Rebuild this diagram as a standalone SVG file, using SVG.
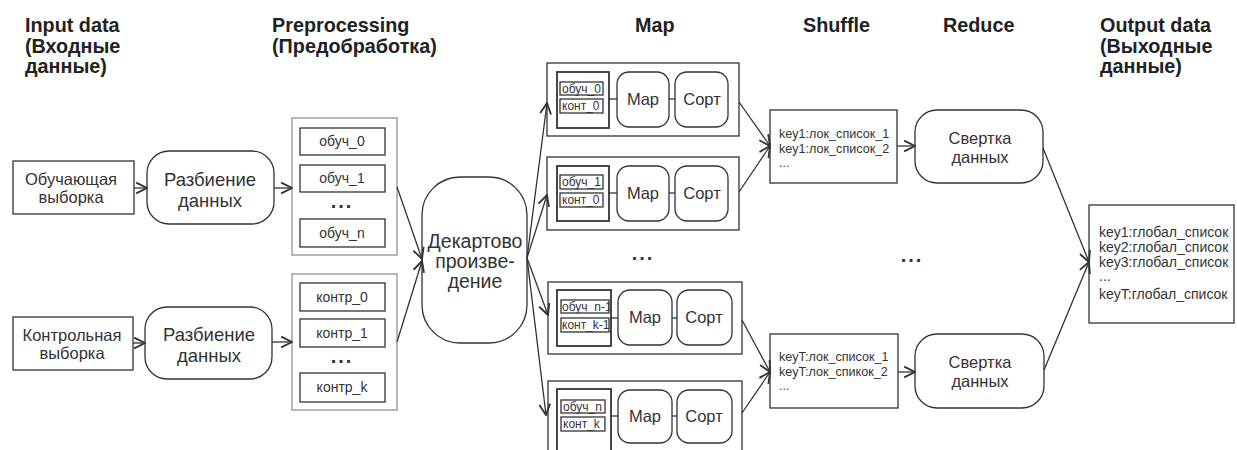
<svg xmlns="http://www.w3.org/2000/svg" width="1237" height="450" viewBox="0 0 1237 450">
  <style>
    .hdr { font-family: "Liberation Sans", Arial, sans-serif; font-weight: bold; font-size: 19.8px; fill: #222; }
    .t { font-family: "Liberation Sans", Arial, sans-serif; fill: #333; text-anchor: middle; }
    .tl { font-family: "Liberation Sans", Arial, sans-serif; fill: #333; }
    .sm { font-family: "Liberation Sans", Arial, sans-serif; fill: #333; font-size: 12px; }
    .box { fill: #fff; stroke: #333; stroke-width: 1.3; }
    .gray { fill: #fff; stroke: #a0a0a0; stroke-width: 1.5; }
    .thick { fill: #fff; stroke: #333; stroke-width: 1.8; }
    .edge { fill: none; stroke: #333; stroke-width: 1.3; marker-end: url(#arr); }
    .link { fill: none; stroke: #333; stroke-width: 1.3; }
    .dots { font-family: "Liberation Sans", Arial, sans-serif; font-weight: bold; font-size: 20px; fill: #333; text-anchor: middle; letter-spacing: 2px; }
  </style>
  <defs>
    <marker id="arr" viewBox="0 0 12 12" refX="11" refY="6" markerWidth="13" markerHeight="13" markerUnits="userSpaceOnUse" orient="auto">
      <path d="M1,1 L11,6 L1,11" fill="none" stroke="#333" stroke-width="1.7"/>
    </marker>
    <clipPath id="clipA"><rect x="561" y="300" width="48" height="13"/></clipPath>
    <clipPath id="clipB"><rect x="561" y="318" width="48" height="14"/></clipPath>
  </defs>
  <rect width="1237" height="450" fill="#fff"/>

  <!-- column headers -->
  <g id="headers">
    <text class="hdr" x="25" y="32">Input data</text>
    <text class="hdr" x="25" y="53">(Входные</text>
    <text class="hdr" x="25" y="73">данные)</text>
    <text class="hdr" x="272" y="32">Preprocessing</text>
    <text class="hdr" x="272" y="53">(Предобработка)</text>
    <text class="hdr" x="635" y="32">Map</text>
    <text class="hdr" x="803" y="32">Shuffle</text>
    <text class="hdr" x="943" y="32">Reduce</text>
    <text class="hdr" x="1100" y="32">Output data</text>
    <text class="hdr" x="1100" y="53">(Выходные</text>
    <text class="hdr" x="1100" y="73">данные)</text>
  </g>

  <!-- input data -->
  <g id="train-sample">
    <rect class="box" x="13" y="161" width="121" height="53"/>
    <text class="t" x="71" y="185" font-size="16.5">Обучающая</text>
    <text class="t" x="71" y="203" font-size="16.5">выборка</text>
  </g>
  <g id="control-sample">
    <rect class="box" x="13" y="317" width="120" height="53"/>
    <text class="t" x="72" y="341" font-size="16.5">Контрольная</text>
    <text class="t" x="72" y="359" font-size="16.5">выборка</text>
  </g>

  <!-- splitting -->
  <g id="split-train">
    <rect class="box" x="147" y="151" width="127" height="73" rx="22"/>
    <text class="t" x="210" y="186" font-size="18.5">Разбиение</text>
    <text class="t" x="210" y="207" font-size="18.5">данных</text>
  </g>
  <g id="split-control">
    <rect class="box" x="145" y="307" width="127" height="72" rx="22"/>
    <text class="t" x="209" y="341" font-size="18.5">Разбиение</text>
    <text class="t" x="209" y="362" font-size="18.5">данных</text>
  </g>

  <!-- partitions -->
  <g id="train-parts">
    <rect class="gray" x="292" y="118" width="105" height="137"/>
    <rect class="box" x="300" y="128" width="85" height="27"/>
    <text class="t" x="342" y="146" font-size="14">обуч_0</text>
    <rect class="box" x="300" y="165" width="85" height="27"/>
    <text class="t" x="342" y="183" font-size="14">обуч_1</text>
    <text class="dots" x="342" y="208">...</text>
    <rect class="box" x="300" y="219" width="85" height="28"/>
    <text class="t" x="342" y="238" font-size="14">обуч_n</text>
  </g>
  <g id="control-parts">
    <rect class="gray" x="292" y="274" width="105" height="136"/>
    <rect class="box" x="300" y="283" width="85" height="28"/>
    <text class="t" x="342" y="302" font-size="14">контр_0</text>
    <rect class="box" x="300" y="319" width="85" height="28"/>
    <text class="t" x="342" y="338" font-size="14">контр_1</text>
    <text class="dots" x="342" y="363">...</text>
    <rect class="box" x="300" y="373" width="85" height="29"/>
    <text class="t" x="342" y="392" font-size="14">контр_k</text>
  </g>

  <!-- cartesian product -->
  <g id="cartesian">
    <rect class="box" x="422" y="177" width="105" height="166" rx="38"/>
    <text class="t" x="475" y="248" font-size="19.5">Декартово</text>
    <text class="t" x="475" y="268" font-size="19.5">произве-</text>
    <text class="t" x="475" y="288" font-size="19.5">дение</text>
  </g>

  <!-- map blocks -->
  <g id="map-1">
    <rect class="box" x="547" y="63" width="192" height="73"/>
    <rect class="thick" x="557" y="72" width="52" height="56"/>
    <rect class="box" x="560" y="82" width="43" height="13"/>
    <text class="sm" x="562" y="93">обуч_0</text>
    <rect class="box" x="560" y="99" width="43" height="14"/>
    <text class="sm" x="562" y="110">конт_0</text>
    <line class="link" x1="609" y1="99" x2="617" y2="99"/>
    <rect class="box" x="617" y="72" width="52" height="55" rx="12"/>
    <text class="t" x="643" y="105" font-size="16.5">Map</text>
    <line class="link" x1="669" y1="99" x2="675" y2="99"/>
    <rect class="box" x="675" y="72" width="53" height="55" rx="12"/>
    <text class="t" x="702" y="105" font-size="16.5">Сорт</text>
  </g>
  <g id="map-2">
    <rect class="box" x="547" y="157" width="192" height="73"/>
    <rect class="thick" x="557" y="166" width="52" height="55"/>
    <rect class="box" x="560" y="175" width="43" height="14"/>
    <text class="sm" x="562" y="186">обуч_1</text>
    <rect class="box" x="560" y="193" width="43" height="14"/>
    <text class="sm" x="562" y="204">конт_0</text>
    <line class="link" x1="609" y1="193" x2="617" y2="193"/>
    <rect class="box" x="617" y="166" width="52" height="55" rx="12"/>
    <text class="t" x="643" y="199" font-size="16.5">Map</text>
    <line class="link" x1="669" y1="193" x2="675" y2="193"/>
    <rect class="box" x="675" y="166" width="53" height="55" rx="12"/>
    <text class="t" x="702" y="199" font-size="16.5">Сорт</text>
  </g>
  <g id="map-3">
    <rect class="box" x="548" y="282" width="194" height="72"/>
    <rect class="thick" x="557" y="290" width="54" height="56"/>
    <rect class="box" x="561" y="300" width="48" height="13"/>
    <text class="sm" x="562" y="311" clip-path="url(#clipA)">обуч_n-1</text>
    <rect class="box" x="561" y="318" width="48" height="14"/>
    <text class="sm" x="562" y="329" clip-path="url(#clipB)">конт_k-1</text>
    <line class="link" x1="611" y1="318" x2="618" y2="318"/>
    <rect class="box" x="618" y="290" width="54" height="55" rx="12"/>
    <text class="t" x="645" y="323" font-size="16.5">Map</text>
    <line class="link" x1="672" y1="318" x2="677" y2="318"/>
    <rect class="box" x="677" y="290" width="55" height="55" rx="12"/>
    <text class="t" x="704" y="323" font-size="16.5">Сорт</text>
  </g>
  <g id="map-4">
    <rect class="box" x="548" y="381" width="194" height="80"/>
    <rect class="thick" x="557" y="389" width="54" height="70"/>
    <rect class="box" x="561" y="400" width="44" height="13"/>
    <text class="sm" x="563" y="411">обуч_n</text>
    <rect class="box" x="561" y="417" width="44" height="14"/>
    <text class="sm" x="563" y="428">конт_k</text>
    <line class="link" x1="611" y1="416" x2="618" y2="416"/>
    <rect class="box" x="618" y="390" width="54" height="53" rx="12"/>
    <text class="t" x="645" y="422" font-size="16.5">Map</text>
    <line class="link" x1="672" y1="416" x2="677" y2="416"/>
    <rect class="box" x="677" y="390" width="55" height="53" rx="12"/>
    <text class="t" x="704" y="422" font-size="16.5">Сорт</text>
  </g>

  <text id="map-dots" class="dots" x="643" y="260">...</text>

  <!-- shuffle -->
  <g id="shuffle-1">
    <rect class="box" x="770" y="110" width="127" height="73"/>
    <text class="tl" x="779" y="138" font-size="12.6">key1:лок_список_1</text>
    <text class="tl" x="779" y="153" font-size="12.6">key1:лок_список_2</text>
    <text class="tl" x="779" y="167" font-size="12.6">...</text>
  </g>
  <g id="shuffle-2">
    <rect class="box" x="770" y="334" width="128" height="74"/>
    <text class="tl" x="779" y="361" font-size="12.6">keyT:лок_список_1</text>
    <text class="tl" x="779" y="376" font-size="12.6">keyT:лок_спикок_2</text>
    <text class="tl" x="779" y="390" font-size="12.6">...</text>
  </g>

  <!-- reduce -->
  <g id="reduce-1">
    <rect class="box" x="915" y="110" width="128" height="73" rx="22"/>
    <text class="t" x="980" y="144" font-size="16.5">Свертка</text>
    <text class="t" x="980" y="163" font-size="16.5">данных</text>
  </g>
  <g id="reduce-2">
    <rect class="box" x="915" y="334" width="129" height="74" rx="22"/>
    <text class="t" x="980" y="368" font-size="16.5">Свертка</text>
    <text class="t" x="980" y="387" font-size="16.5">данных</text>
  </g>
  <text id="reduce-dots" class="dots" x="912" y="262">...</text>

  <!-- output -->
  <g id="output">
    <rect class="box" x="1089" y="205" width="145" height="118"/>
    <text class="tl" x="1099" y="237" font-size="14">key1:глобал_список</text>
    <text class="tl" x="1099" y="252" font-size="14">key2:глобал_список</text>
    <text class="tl" x="1099" y="267" font-size="14">key3:глобал_список</text>
    <text class="tl" x="1099" y="281" font-size="14">...</text>
    <text class="tl" x="1099" y="299" font-size="14">keyT:глобал_список</text>
  </g>

  <!-- connectors -->
  <g id="connectors">
    <line class="edge" x1="134" y1="188" x2="147" y2="188"/>
    <line class="edge" x1="133" y1="343" x2="145" y2="343"/>
    <line class="edge" x1="274" y1="188" x2="292" y2="188"/>
    <line class="edge" x1="272" y1="342" x2="292" y2="342"/>
    <line class="edge" x1="397" y1="187" x2="422" y2="259"/>
    <line class="edge" x1="397" y1="342" x2="422" y2="261"/>
    <line class="edge" x1="527" y1="258" x2="547" y2="103"/>
    <line class="edge" x1="527" y1="258" x2="547" y2="195"/>
    <line class="edge" x1="527" y1="258" x2="548" y2="315"/>
    <line class="edge" x1="527" y1="258" x2="546" y2="415"/>
    <line class="edge" x1="739" y1="102" x2="770" y2="146"/>
    <line class="edge" x1="739" y1="192" x2="770" y2="146"/>
    <line class="edge" x1="742" y1="320" x2="770" y2="372"/>
    <line class="edge" x1="742" y1="413" x2="770" y2="372"/>
    <line class="edge" x1="897" y1="146" x2="915" y2="146"/>
    <line class="edge" x1="898" y1="372" x2="915" y2="372"/>
    <line class="edge" x1="1043" y1="148" x2="1089" y2="262"/>
    <line class="edge" x1="1044" y1="370" x2="1089" y2="262"/>
  </g>
</svg>
